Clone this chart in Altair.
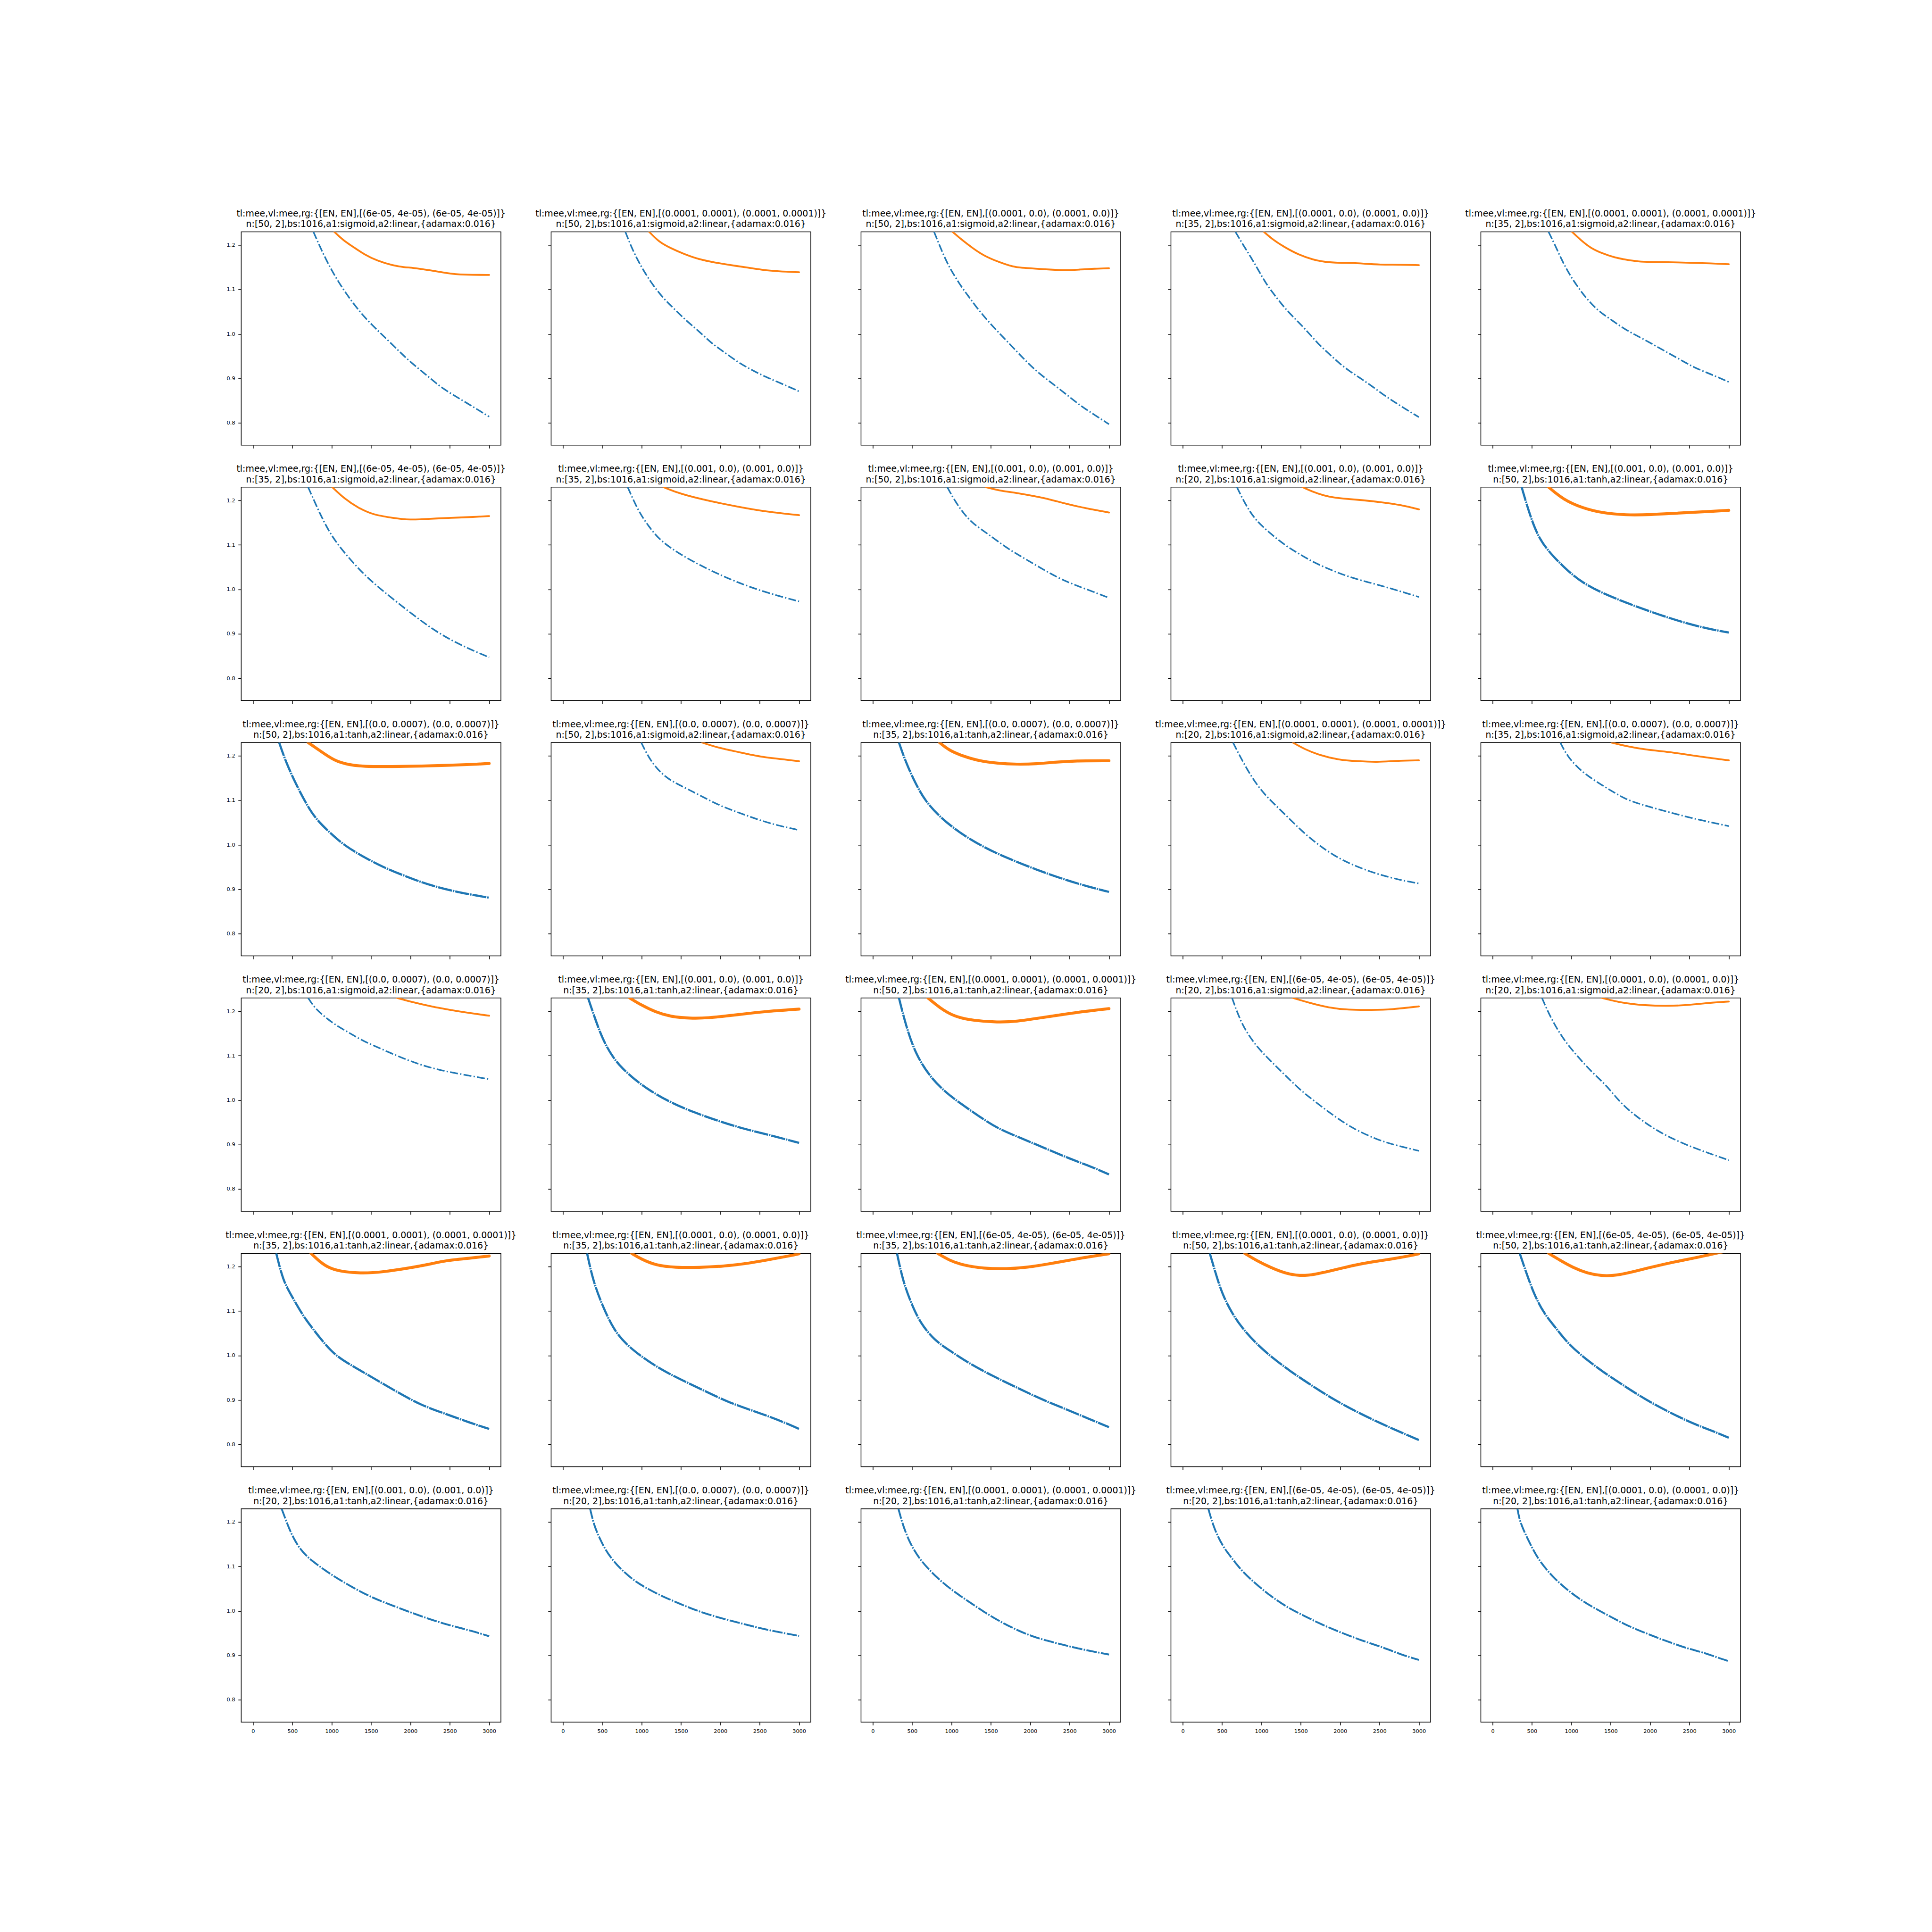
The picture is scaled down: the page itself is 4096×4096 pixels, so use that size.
import altair as alt
import pandas as pd

# ---------------------------------------------------------------- titles
reg_pairs = [
    "(6e-05, 4e-05)", "(0.0001, 0.0001)", "(0.0001, 0.0)", "(0.0001, 0.0)", "(0.0001, 0.0001)",
    "(6e-05, 4e-05)", "(0.001, 0.0)", "(0.001, 0.0)", "(0.001, 0.0)", "(0.001, 0.0)",
    "(0.0, 0.0007)", "(0.0, 0.0007)", "(0.0, 0.0007)", "(0.0001, 0.0001)", "(0.0, 0.0007)",
    "(0.0, 0.0007)", "(0.001, 0.0)", "(0.0001, 0.0001)", "(6e-05, 4e-05)", "(0.0001, 0.0)",
    "(0.0001, 0.0001)", "(0.0001, 0.0)", "(6e-05, 4e-05)", "(0.0001, 0.0)", "(6e-05, 4e-05)",
    "(0.001, 0.0)", "(0.0, 0.0007)", "(0.0001, 0.0001)", "(6e-05, 4e-05)", "(0.0001, 0.0)",
]
units = [
    50, 50, 50, 35, 35,
    35, 35, 50, 20, 50,
    50, 50, 35, 20, 35,
    20, 35, 50, 20, 20,
    35, 35, 35, 50, 50,
    20, 20, 20, 20, 20,
]
act1 = [
    "sigmoid", "sigmoid", "sigmoid", "sigmoid", "sigmoid",
    "sigmoid", "sigmoid", "sigmoid", "sigmoid", "tanh",
    "tanh", "sigmoid", "tanh", "sigmoid", "sigmoid",
    "sigmoid", "tanh", "tanh", "sigmoid", "sigmoid",
    "tanh", "tanh", "tanh", "tanh", "tanh",
    "tanh", "tanh", "tanh", "tanh", "tanh",
]

# ---------------------------------------------------------------- curves (epoch, mee)
train_1_1 = [(767, 1.23), (868, 1.189), (994, 1.144), (1145, 1.100), (1347, 1.051), (1524, 1.018), (1637, 0.999), (1852, 0.962), (1978, 0.940), (2256, 0.900), (2407, 0.877), (2659, 0.851), (3000, 0.814)]
val_1_1 = [(1032, 1.23), (1145, 1.211), (1272, 1.196), (1423, 1.178), (1574, 1.165), (1776, 1.154), (1928, 1.150), (2028, 1.149), (2230, 1.144), (2432, 1.138), (2583, 1.134), (2785, 1.133), (3000, 1.133)]
train_1_2 = [(793, 1.23), (868, 1.196), (969, 1.159), (1120, 1.115), (1271, 1.081), (1422, 1.055), (1573, 1.029), (1724, 1.007), (1875, 0.981), (2026, 0.962), (2228, 0.936), (2379, 0.921), (2530, 0.907), (2731, 0.892), (3000, 0.871)]
val_1_2 = [(1095, 1.23), (1221, 1.207), (1372, 1.193), (1523, 1.181), (1724, 1.168), (1926, 1.161), (2127, 1.155), (2328, 1.150), (2530, 1.144), (2731, 1.141), (3000, 1.139)]
train_1_3 = [(778, 1.23), (848, 1.199), (942, 1.160), (1036, 1.131), (1130, 1.105), (1223, 1.083), (1317, 1.060), (1434, 1.035), (1552, 1.012), (1692, 0.986), (1833, 0.960), (1973, 0.934), (2114, 0.911), (2255, 0.892), (2395, 0.873), (2536, 0.853), (2677, 0.834), (2817, 0.818), (3000, 0.797)]
val_1_3 = [(1012, 1.23), (1130, 1.212), (1270, 1.193), (1411, 1.176), (1598, 1.162), (1786, 1.151), (1880, 1.149), (2067, 1.147), (2255, 1.145), (2442, 1.143), (2630, 1.145), (2817, 1.147), (3000, 1.148)]
train_1_4 = [(669, 1.23), (772, 1.199), (866, 1.173), (960, 1.144), (1053, 1.115), (1147, 1.092), (1287, 1.060), (1427, 1.034), (1568, 1.009), (1708, 0.980), (1849, 0.957), (1989, 0.934), (2129, 0.915), (2270, 0.899), (2410, 0.882), (2551, 0.863), (2691, 0.847), (2831, 0.831), (3000, 0.813)]
val_1_4 = [(1030, 1.23), (1147, 1.212), (1287, 1.196), (1474, 1.178), (1661, 1.167), (1802, 1.162), (1989, 1.160), (2176, 1.160), (2317, 1.158), (2504, 1.156), (2738, 1.156), (3000, 1.155)]
train_1_5 = [(710, 1.23), (793, 1.200), (869, 1.170), (945, 1.144), (1020, 1.122), (1121, 1.096), (1222, 1.074), (1348, 1.051), (1499, 1.033), (1650, 1.014), (1801, 0.999), (1952, 0.985), (2103, 0.970), (2254, 0.955), (2406, 0.940), (2557, 0.925), (2708, 0.914), (2859, 0.903), (3000, 0.892)]
val_1_5 = [(1008, 1.23), (1121, 1.211), (1247, 1.193), (1398, 1.181), (1549, 1.172), (1700, 1.167), (1851, 1.163), (2003, 1.162), (2154, 1.162), (2355, 1.161), (2557, 1.160), (2758, 1.159), (3000, 1.157)]

train_2_1 = [(700, 1.23), (800, 1.190), (900, 1.152), (1032, 1.110), (1278, 1.058), (1462, 1.025), (1646, 0.997), (2015, 0.945), (2322, 0.905), (2629, 0.875), (3000, 0.847)]
val_2_1 = [(1007, 1.23), (1155, 1.205), (1339, 1.183), (1523, 1.168), (1769, 1.161), (1990, 1.156), (2260, 1.159), (2506, 1.161), (2813, 1.163), (3000, 1.165)]
train_2_2 = [(823, 1.23), (960, 1.175), (1093, 1.141), (1241, 1.108), (1548, 1.072), (1978, 1.033), (2469, 0.998), (3000, 0.973)]
val_2_2 = [(1278, 1.23), (1486, 1.215), (1855, 1.199), (2224, 1.186), (2531, 1.176), (3000, 1.167)]
train_2_3 = [(946, 1.23), (1032, 1.202), (1155, 1.170), (1278, 1.147), (1462, 1.125), (1708, 1.092), (1953, 1.067), (2199, 1.041), (2445, 1.018), (2690, 1.002), (3000, 0.981)]
val_2_3 = [(1437, 1.23), (1585, 1.223), (1830, 1.217), (2076, 1.209), (2260, 1.202), (2445, 1.193), (2690, 1.183), (3000, 1.173)]
train_2_4 = [(688, 1.23), (811, 1.186), (934, 1.154), (1118, 1.125), (1302, 1.099), (1486, 1.079), (1671, 1.060), (1917, 1.041), (2162, 1.025), (2531, 1.008), (2776, 0.995), (3000, 0.983)]
val_2_4 = [(1523, 1.23), (1671, 1.218), (1855, 1.208), (2039, 1.204), (2285, 1.201), (2531, 1.196), (2776, 1.190), (3000, 1.180)]
train_2_5 = [(369, 1.23), (467, 1.170), (590, 1.112), (774, 1.073), (958, 1.041), (1142, 1.015), (1388, 0.992), (1695, 0.970), (2003, 0.950), (2371, 0.928), (2740, 0.911), (3000, 0.903)]
val_2_5 = [(712, 1.23), (897, 1.202), (1142, 1.183), (1388, 1.172), (1695, 1.167), (2003, 1.168), (2371, 1.172), (2740, 1.175), (3000, 1.178)]

train_3_1 = [(332, 1.23), (418, 1.186), (541, 1.138), (664, 1.096), (787, 1.060), (971, 1.028), (1155, 0.999), (1400, 0.973), (1646, 0.950), (1953, 0.928), (2260, 0.908), (2629, 0.892), (3000, 0.881)]
val_3_1 = [(700, 1.23), (848, 1.212), (1032, 1.189), (1216, 1.180), (1400, 1.176), (1769, 1.176), (2137, 1.177), (2506, 1.179), (2813, 1.181), (3000, 1.183)]
train_3_2 = [(995, 1.23), (1118, 1.186), (1302, 1.151), (1486, 1.134), (1732, 1.112), (1978, 1.089), (2224, 1.073), (2469, 1.057), (2715, 1.044), (3000, 1.033)]
val_3_2 = [(1769, 1.23), (1978, 1.218), (2224, 1.209), (2531, 1.197), (2776, 1.193), (3000, 1.188)]
train_3_3 = [(332, 1.23), (418, 1.186), (541, 1.138), (664, 1.099), (848, 1.063), (1093, 1.028), (1400, 0.995), (1708, 0.970), (2076, 0.944), (2445, 0.921), (2752, 0.905), (3000, 0.894)]
val_3_3 = [(848, 1.23), (971, 1.212), (1155, 1.199), (1339, 1.189), (1585, 1.183), (1830, 1.181), (2076, 1.182), (2322, 1.186), (2567, 1.189), (3000, 1.189)]
train_3_4 = [(639, 1.23), (811, 1.170), (995, 1.121), (1179, 1.089), (1364, 1.057), (1548, 1.025), (1732, 0.999), (1917, 0.976), (2162, 0.954), (2469, 0.934), (2776, 0.920), (3000, 0.913)]
val_3_4 = [(1400, 1.23), (1548, 1.215), (1732, 1.202), (1978, 1.191), (2224, 1.188), (2469, 1.186), (2715, 1.189), (3000, 1.190)]
train_3_5 = [(860, 1.23), (958, 1.196), (1142, 1.163), (1327, 1.141), (1511, 1.121), (1695, 1.102), (1880, 1.091), (2125, 1.079), (2371, 1.067), (2678, 1.054), (3000, 1.042)]
val_3_5 = [(1511, 1.23), (1695, 1.222), (1941, 1.214), (2248, 1.209), (2494, 1.202), (2740, 1.196), (3000, 1.190)]

train_4_1 = [(700, 1.23), (786, 1.207), (909, 1.188), (1032, 1.171), (1216, 1.152), (1400, 1.133), (1646, 1.114), (1892, 1.095), (2137, 1.079), (2383, 1.067), (2690, 1.057), (3000, 1.047)]
val_4_1 = [(1830, 1.23), (2015, 1.221), (2260, 1.211), (2506, 1.203), (2752, 1.196), (3000, 1.190)]
train_4_2 = [(319, 1.23), (405, 1.185), (504, 1.137), (627, 1.098), (749, 1.072), (934, 1.043), (1118, 1.020), (1364, 0.995), (1671, 0.972), (1978, 0.953), (2285, 0.936), (2592, 0.923), (3000, 0.904)]
val_4_2 = [(848, 1.23), (995, 1.214), (1179, 1.198), (1364, 1.188), (1609, 1.184), (1855, 1.185), (2101, 1.190), (2346, 1.195), (2592, 1.200), (3000, 1.205)]
train_4_3 = [(332, 1.23), (418, 1.169), (541, 1.104), (725, 1.053), (909, 1.020), (1093, 0.995), (1339, 0.965), (1585, 0.936), (1892, 0.914), (2199, 0.891), (2506, 0.868), (2752, 0.852), (3000, 0.833)]
val_4_3 = [(700, 1.23), (848, 1.208), (1032, 1.188), (1278, 1.179), (1585, 1.175), (1830, 1.177), (2076, 1.184), (2383, 1.192), (2690, 1.200), (3000, 1.206)]
train_4_4 = [(627, 1.23), (749, 1.169), (934, 1.121), (1118, 1.088), (1302, 1.056), (1486, 1.024), (1671, 0.998), (1917, 0.965), (2162, 0.936), (2469, 0.911), (2715, 0.898), (3000, 0.886)]
val_4_4 = [(1400, 1.23), (1609, 1.219), (1855, 1.208), (2101, 1.203), (2408, 1.203), (2653, 1.204), (3000, 1.211)]
train_4_5 = [(627, 1.23), (737, 1.185), (897, 1.137), (1081, 1.098), (1265, 1.062), (1450, 1.033), (1634, 0.991), (1880, 0.956), (2125, 0.927), (2432, 0.901), (2740, 0.881), (3000, 0.865)]
val_4_5 = [(1388, 1.23), (1634, 1.219), (1941, 1.213), (2248, 1.212), (2494, 1.214), (2740, 1.219), (3000, 1.222)]

train_5_1 = [(295, 1.23), (381, 1.169), (479, 1.138), (565, 1.111), (664, 1.082), (848, 1.040), (1032, 1.001), (1278, 0.975), (1523, 0.950), (1830, 0.918), (2137, 0.888), (2445, 0.869), (2752, 0.849), (3000, 0.835)]
val_5_1 = [(737, 1.23), (848, 1.211), (971, 1.196), (1155, 1.188), (1400, 1.185), (1646, 1.188), (1953, 1.196), (2260, 1.206), (2445, 1.214), (2752, 1.219), (3000, 1.224)]
train_5_2 = [(307, 1.23), (381, 1.169), (504, 1.111), (651, 1.056), (811, 1.024), (995, 0.998), (1241, 0.969), (1486, 0.947), (1794, 0.921), (2101, 0.895), (2408, 0.876), (2715, 0.857), (3000, 0.835)]
val_5_2 = [(872, 1.23), (995, 1.217), (1179, 1.203), (1425, 1.198), (1732, 1.198), (2039, 1.201), (2346, 1.207), (2653, 1.217), (2899, 1.225), (3000, 1.229)]
train_5_3 = [(307, 1.23), (381, 1.169), (479, 1.121), (602, 1.073), (786, 1.034), (971, 1.012), (1216, 0.983), (1523, 0.954), (1830, 0.928), (2137, 0.902), (2445, 0.880), (2752, 0.857), (3000, 0.839)]
val_5_3 = [(823, 1.23), (971, 1.214), (1155, 1.203), (1400, 1.196), (1708, 1.195), (1953, 1.198), (2260, 1.207), (2567, 1.217), (2813, 1.224), (3000, 1.229)]
train_5_4 = [(344, 1.23), (418, 1.185), (504, 1.137), (627, 1.095), (749, 1.063), (934, 1.027), (1118, 0.998), (1364, 0.965), (1609, 0.936), (1917, 0.901), (2224, 0.872), (2531, 0.846), (2776, 0.827), (3000, 0.810)]
val_5_4 = [(786, 1.23), (934, 1.214), (1118, 1.198), (1302, 1.185), (1486, 1.179), (1671, 1.182), (1917, 1.192), (2162, 1.203), (2408, 1.211), (2653, 1.217), (2899, 1.225), (3000, 1.229)]
train_5_5 = [(344, 1.23), (430, 1.185), (528, 1.137), (651, 1.095), (799, 1.063), (958, 1.027), (1142, 0.998), (1388, 0.965), (1634, 0.936), (1941, 0.901), (2248, 0.872), (2555, 0.846), (2801, 0.830), (3000, 0.815)]
val_5_5 = [(712, 1.23), (860, 1.214), (1020, 1.198), (1204, 1.185), (1388, 1.179), (1573, 1.180), (1818, 1.190), (2064, 1.201), (2310, 1.211), (2555, 1.219), (2801, 1.229), (3000, 1.236)]

train_6_1 = [(363, 1.23), (414, 1.206), (464, 1.183), (515, 1.164), (590, 1.141), (691, 1.121), (817, 1.104), (918, 1.091), (1019, 1.079), (1272, 1.052), (1524, 1.029), (1776, 1.012), (2028, 0.995), (2281, 0.979), (2533, 0.966), (2785, 0.955), (3000, 0.943)]
train_6_2 = [(345, 1.23), (396, 1.192), (468, 1.163), (540, 1.137), (647, 1.111), (755, 1.091), (899, 1.069), (1043, 1.053), (1259, 1.033), (1475, 1.017), (1691, 1.001), (1978, 0.985), (2266, 0.972), (2554, 0.959), (2842, 0.949), (3000, 0.944)]
train_6_3 = [(325, 1.23), (383, 1.192), (470, 1.153), (578, 1.121), (687, 1.098), (831, 1.072), (1012, 1.046), (1193, 1.024), (1410, 0.998), (1627, 0.975), (1843, 0.956), (2060, 0.940), (2349, 0.927), (2638, 0.914), (3000, 0.902)]
train_6_4 = [(325, 1.23), (398, 1.185), (506, 1.146), (614, 1.121), (759, 1.088), (940, 1.059), (1120, 1.033), (1337, 1.007), (1554, 0.988), (1771, 0.969), (1988, 0.953), (2277, 0.933), (2566, 0.917), (2783, 0.901), (3000, 0.890)]
train_6_5 = [(315, 1.23), (340, 1.206), (390, 1.183), (441, 1.164), (516, 1.137), (592, 1.114), (693, 1.091), (794, 1.072), (894, 1.056), (995, 1.041), (1146, 1.022), (1297, 1.006), (1499, 0.987), (1700, 0.968), (1902, 0.953), (2103, 0.939), (2305, 0.926), (2506, 0.914), (2708, 0.905), (2859, 0.895), (3000, 0.887)]

train = [
    train_1_1, train_1_2, train_1_3, train_1_4, train_1_5,
    train_2_1, train_2_2, train_2_3, train_2_4, train_2_5,
    train_3_1, train_3_2, train_3_3, train_3_4, train_3_5,
    train_4_1, train_4_2, train_4_3, train_4_4, train_4_5,
    train_5_1, train_5_2, train_5_3, train_5_4, train_5_5,
    train_6_1, train_6_2, train_6_3, train_6_4, train_6_5,
]
val = [
    val_1_1, val_1_2, val_1_3, val_1_4, val_1_5,
    val_2_1, val_2_2, val_2_3, val_2_4, val_2_5,
    val_3_1, val_3_2, val_3_3, val_3_4, val_3_5,
    val_4_1, val_4_2, val_4_3, val_4_4, val_4_5,
    val_5_1, val_5_2, val_5_3, val_5_4, val_5_5,
    None, None, None, None, None,
]

x_ticks = [0, 500, 1000, 1500, 2000, 2500, 3000]
y_ticks = [0.8, 0.9, 1.0, 1.1, 1.2]
x_domain = [-150, 3149]
y_domain = [0.75, 1.23]

# ---------------------------------------------------------------- styles / layout
S = 0.91
W = 605 * S
H = 497 * S
H_SP = 721.5 * S - W
V_SP = 594.2 * S - H
PAD_L = 562 * S
PAD_T = 540 * S
FONT = "DejaVu Sans"
TITLE_FS = 20.8 * S
TITLE_LH = 25.0 * S
TICK_FS = 12.5 * S
TICK_LEN = 7.3 * S
TICK_W = 1.67 * S
LABEL_PAD = 7.3 * S
FRAME_W = 1.67 * S
BLUE = "#1f77b4"
ORANGE = "#ff7f0e"
DASHDOT = [18.5 * S, 5 * S, 3.2 * S, 5 * S]


def line_style(i):
    if act1[i] == "tanh" and units[i] >= 35:
        return 4.6, 6.2, [30, 2, 3, 2]
    if act1[i] == "tanh":
        return 3.9, 5.0, [22, 3, 3, 3]
    return 3.3, 3.8, DASHDOT


def panel(i):
    r, c = divmod(i, 5)
    x_axis = alt.Axis(values=x_ticks, format="d", labels=(r == 5), title=None, grid=False,
                      domain=False, ticks=True, tickSize=TICK_LEN, tickWidth=TICK_W,
                      tickColor="black", labelFont=FONT, labelFontSize=TICK_FS,
                      labelColor="black", labelPadding=LABEL_PAD, labelFlush=False,
                      labelOverlap=False, labelBound=False)
    y_axis = alt.Axis(values=y_ticks, format=".1f", labels=(c == 0), title=None, grid=False,
                      domain=False, ticks=True, tickSize=TICK_LEN, tickWidth=TICK_W,
                      tickColor="black", labelFont=FONT, labelFontSize=TICK_FS,
                      labelColor="black", labelPadding=LABEL_PAD, labelFlush=False,
                      labelOverlap=False, labelBound=False)
    xe = alt.X("epoch:Q", scale=alt.Scale(domain=x_domain, nice=False, zero=False), axis=x_axis)
    ye = alt.Y("mee:Q", scale=alt.Scale(domain=y_domain, nice=False, zero=False), axis=y_axis)
    bw, ow, dash = line_style(i)
    df_t = pd.DataFrame(train[i], columns=["epoch", "mee"])
    layers = [
        alt.Chart(df_t).mark_line(color=BLUE, strokeWidth=bw, strokeDash=dash, strokeCap="butt",
                                  interpolate="basis", clip=True).encode(x=xe, y=ye)
    ]
    if val[i] is not None:
        df_v = pd.DataFrame(val[i], columns=["epoch", "mee"])
        layers.append(
            alt.Chart(df_v).mark_line(color=ORANGE, strokeWidth=ow, strokeCap="round",
                                      interpolate="basis", clip=True).encode(x=xe, y=ye)
        )
    line1 = f"tl:mee,vl:mee,rg:{{[EN, EN],[{reg_pairs[i]}, {reg_pairs[i]}]}}"
    line2 = f"n:[{units[i]}, 2],bs:1016,a1:{act1[i]},a2:linear,{{adamax:0.016}}"
    return alt.layer(*layers).properties(
        width=W, height=H,
        title=alt.TitleParams(text=[line1, line2], font=FONT, fontSize=TITLE_FS,
                              fontWeight="normal", color="black", lineHeight=TITLE_LH,
                              anchor="middle", offset=6),
    )


panels = [panel(i) for i in range(30)]
chart = alt.concat(*panels, columns=5, spacing={"row": V_SP, "column": H_SP}, bounds="flush").properties(
    padding={"left": PAD_L, "top": PAD_T, "right": 4096 - PAD_L, "bottom": 4096 - PAD_T},
    autosize=alt.AutoSizeParams(type="none"),
    background="white",
).configure_view(stroke="black", strokeWidth=FRAME_W)

chart.save("out.html", embed_options={"renderer": "svg", "actions": False})
